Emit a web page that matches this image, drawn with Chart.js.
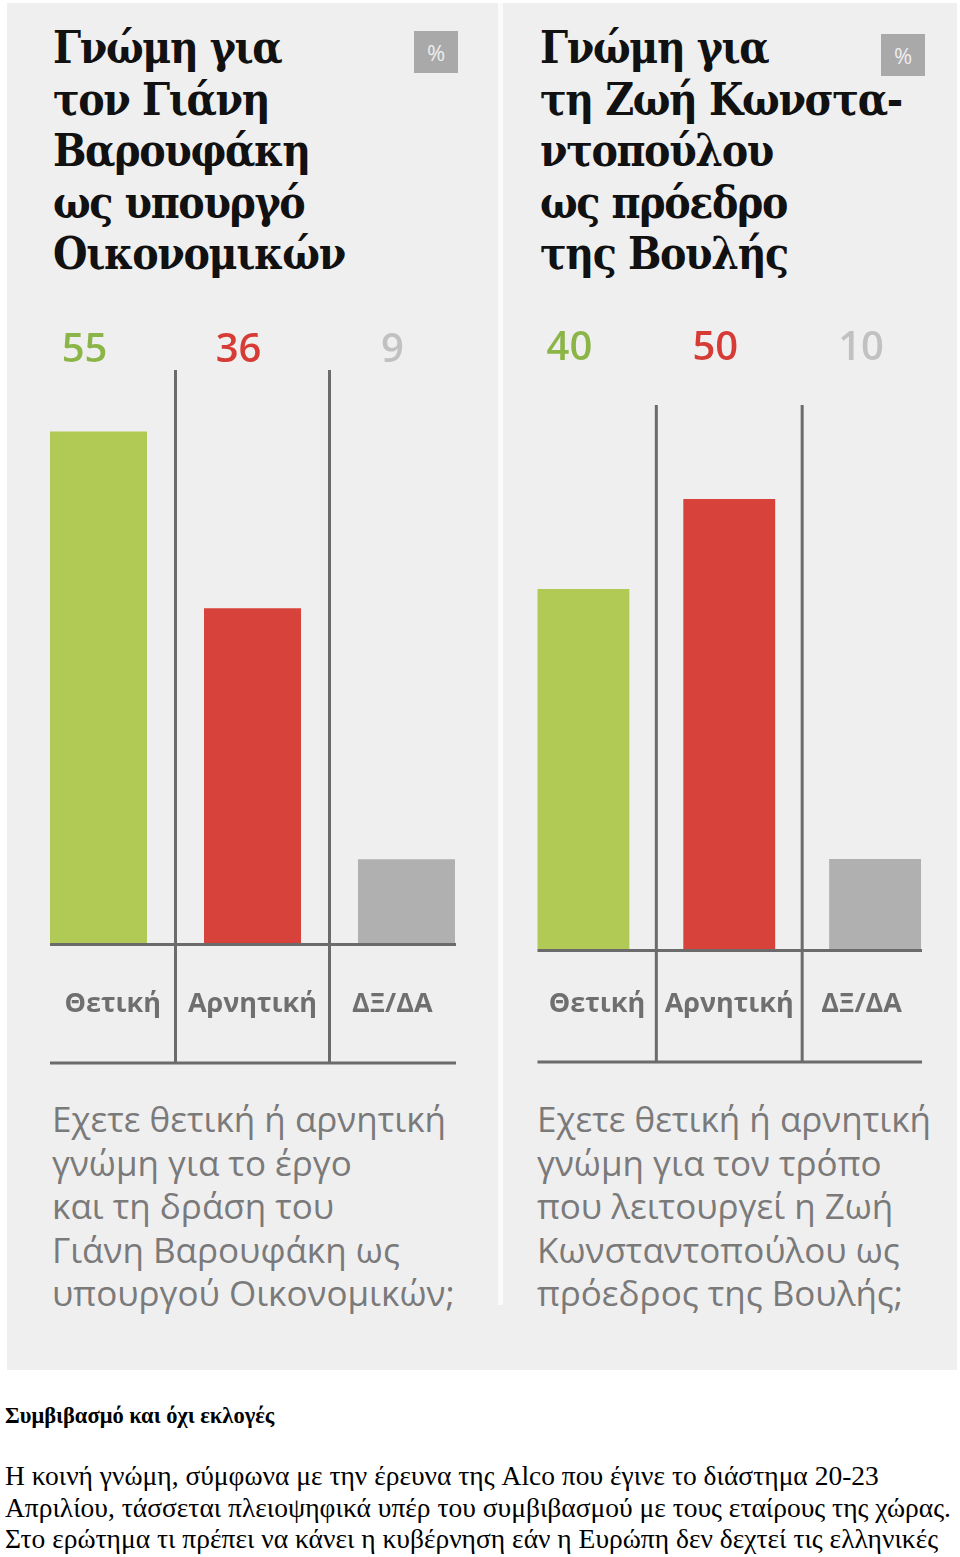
<!DOCTYPE html>
<html>
<head>
<meta charset="utf-8">
<script src="https://cdn.jsdelivr.net/npm/chart.js@4.4.0/dist/chart.umd.min.js"></script>
<style>
  html, body { margin: 0; padding: 0; background: #fff; }
  body { width: 960px; height: 1557px; position: relative; overflow: hidden; }
  .panel { position: absolute; left: 7px; top: 3px; width: 950px; height: 1367px; background: #f0eff0; }
  .gap { position: absolute; left: 498px; top: 3px; width: 5px; height: 1302px; background: #fbfbfb; }
  .title { position: absolute; top: 22px; font-family: "DejaVu Serif", serif; font-weight: bold;
           font-size: 44px; line-height: 51.5px; color: #111; letter-spacing: -1.5px; white-space: pre;
           transform: scaleX(0.9); transform-origin: 0 0; }
  .pct { position: absolute; width: 44px; height: 42px; background: #a9a9a9; color: #eee;
         font-family: "Open Sans", sans-serif; font-size: 22px; line-height: 42px; text-align: center; }
  .question { position: absolute; top: 1097px; font-family: "Open Sans", sans-serif; font-size: 35px;
              line-height: 43.5px; color: #7a7a7a; white-space: pre; }
  .wrap { position: absolute; top: 300px; height: 780px; }
  .article { position: absolute; left: 5px; font-family: "Liberation Serif", "Times New Roman", serif;
             color: #000; white-space: pre; }
</style>
</head>
<body>
<div class="panel"></div>
<div class="gap"></div>

<div class="title" style="left:53px;">Γνώμη για
τον Γιάνη
Βαρουφάκη
ως υπουργό
Οικονομικών</div>
<div class="pct" style="left:414px; top:31px;">%</div>

<div class="title" style="left:540px;">Γνώμη για
τη Ζωή Κωνστα-
ντοπούλου
ως πρόεδρο
της Βουλής</div>
<div class="pct" style="left:881px; top:34px;">%</div>

<div class="wrap" style="left:0; width:497px;"><canvas id="leftChart"></canvas></div>
<div class="wrap" style="left:503px; width:454px;"><canvas id="rightChart"></canvas></div>

<div class="question" style="left:52px;">Εχετε θετική ή αρνητική
γνώμη για το έργο
και τη δράση του
Γιάνη Βαρουφάκη ως
υπουργού Οικονομικών;</div>
<div class="question" style="left:537px;">Εχετε θετική ή αρνητική
γνώμη για τον τρόπο
που λειτουργεί η Ζωή
Κωνσταντοπούλου ως
πρόεδρος της Βουλής;</div>

<div class="article" style="top:1403px; font-weight:bold; font-size:22.5px;">Συμβιβασμό και όχι εκλογές</div>
<div class="article" style="top:1460px; font-size:27.5px; line-height:31.5px;">Η κοινή γνώμη, σύμφωνα με την έρευνα της Alco που έγινε το διάστημα 20-23
Απριλίου, τάσσεται πλειοψηφικά υπέρ του συμβιβασμού με τους εταίρους της χώρας.
Στο ερώτημα τι πρέπει να κάνει η κυβέρνηση εάν η Ευρώπη δεν δεχτεί τις ελληνικές</div>

<script>
// Δεδομένα
const categories = ['Θετική', 'Αρνητική', 'ΔΞ/ΔΑ'];
const varoufakisValues = [55, 36, 9];
const konstantopoulouValues = [40, 50, 10];

// Χρώματα
const barColors = ['#b1c955', '#d7433a', '#b1b0b0'];
const valueColors = ['#8cb548', '#d63c35', '#c2c1c1'];
const lineColor = '#6b6b6b';

// Γραμμές, αριθμοί και ετικέτες κατηγοριών
const panelDecor = {
    id: 'panelDecor',
    afterDatasetsDraw(chart, args, opts) {
        const ctx = chart.ctx;
        const bars = chart.getDatasetMeta(0).data;
        const values = chart.data.datasets[0].data;
        const zeroY = chart.scales.y.getPixelForValue(0);
        const left = bars[0].x - bars[0].width / 2;
        const last = bars[bars.length - 1];
        const right = last.x + last.width / 2;

        // όρια στηλών
        const edges = [left];
        for (let i = 0; i < bars.length - 1; i++) {
            const a = bars[i].x + bars[i].width / 2;
            const b = bars[i + 1].x - bars[i + 1].width / 2;
            edges.push((a + b) / 2);
        }
        edges.push(right);

        ctx.save();
        ctx.strokeStyle = lineColor;
        ctx.lineWidth = 3;
        ctx.beginPath();
        ctx.moveTo(left, zeroY + 1.5);
        ctx.lineTo(right + 1, zeroY + 1.5);
        ctx.moveTo(left, opts.lineBottom);
        ctx.lineTo(right + 1, opts.lineBottom);
        for (let i = 1; i < edges.length - 1; i++) {
            ctx.moveTo(edges[i], opts.lineTop);
            ctx.lineTo(edges[i], opts.lineBottom);
        }
        ctx.stroke();

        // αριθμοί πάνω από τις στήλες
        ctx.textAlign = 'center';
        ctx.textBaseline = 'alphabetic';
        ctx.font = '600 40px "Open Sans", sans-serif';
        bars.forEach((bar, i) => {
            ctx.fillStyle = valueColors[i];
            ctx.fillText(String(values[i]), bar.x - 14, opts.valueY);
        });

        // ετικέτες κατηγοριών
        ctx.font = 'bold 27px "Open Sans", sans-serif';
        ctx.fillStyle = '#6f6f6f';
        chart.data.labels.forEach((lab, i) => {
            ctx.fillText(lab, (edges[i] + edges[i + 1]) / 2, opts.catY);
        });
        ctx.restore();
    }
};

function makeChart(id, values, padding, decor) {
    const ctx = document.getElementById(id).getContext('2d');
    return new Chart(ctx, {
        type: 'bar',
        data: {
            labels: categories,
            datasets: [{
                data: values,
                backgroundColor: barColors,
                borderWidth: 0,
                barPercentage: 0.63,
                categoryPercentage: 1.0
            }]
        },
        options: {
            responsive: true,
            maintainAspectRatio: false,
            animation: false,
            layout: { padding: padding },
            scales: {
                x: { display: false },
                y: { display: false, min: 0, max: 60 }
            },
            plugins: {
                legend: { display: false },
                tooltip: { enabled: false },
                panelDecor: decor
            }
        },
        plugins: [panelDecor]
    });
}

const leftChart = makeChart('leftChart', varoufakisValues,
    { left: 21.5, right: 13.5, top: 85, bottom: 137 },
    { lineTop: 70, lineBottom: 763, valueY: 62, catY: 712 });

const rightChart = makeChart('rightChart', konstantopoulouValues,
    { left: 7.5, right: 9, top: 109, bottom: 131 },
    { lineTop: 105, lineBottom: 762, valueY: 60, catY: 712 });
</script>
</body>
</html>
